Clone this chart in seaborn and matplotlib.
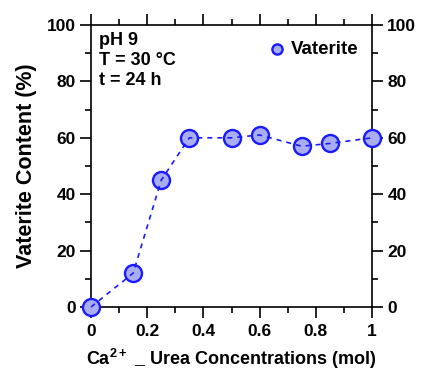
import matplotlib
matplotlib.use("Agg")
import matplotlib.pyplot as plt
import seaborn as sns
import pandas as pd
from matplotlib.ticker import MultipleLocator, FixedLocator, FuncFormatter

# Ca2+ - urea concentration (mol) and vaterite content (%)
concentration = [0.0, 0.15, 0.25, 0.35, 0.5, 0.6, 0.75, 0.85, 1.0]
vaterite = [0, 12, 45, 60, 60, 61, 57, 58, 60]
x_ticks = [0, 0.2, 0.4, 0.6, 0.8, 1]
y_ticks = [0, 20, 40, 60, 80, 100]

sns.set_theme(style="ticks")
plt.rcParams["font.family"] = ["Liberation Sans", "DejaVu Sans"]
plt.rcParams["font.weight"] = "bold"
plt.rcParams["text.color"] = "black"
plt.rcParams["axes.labelcolor"] = "black"
plt.rcParams["xtick.color"] = "black"
plt.rcParams["ytick.color"] = "black"
plt.rcParams["mathtext.fontset"] = "custom"
plt.rcParams["mathtext.rm"] = "Liberation Sans:bold"
plt.rcParams["mathtext.bf"] = "Liberation Sans:bold"
plt.rcParams["mathtext.default"] = "bf"

df = pd.DataFrame({"conc": concentration, "vat": vaterite})

fig = plt.figure(figsize=(4.21, 3.72), dpi=100)
ax = fig.add_axes([91 / 421, 1 - 307 / 372, 281 / 421, 282 / 372])

blue = "#1a1aff"
fill = "#a9adf2"

sns.scatterplot(data=df, x="conc", y="vat", ax=ax, s=150, color=fill,
                edgecolor=blue, linewidth=1.7, zorder=3, clip_on=False,
                label="Vaterite")
sns.lineplot(data=df, x="conc", y="vat", ax=ax, color=blue, lw=1.2,
             zorder=4, clip_on=False, legend=False)
ax.lines[-1].set_linestyle((0, (3, 3)))

ax.set_xlim(0, 1)
ax.set_ylim(0, 100)

ax.xaxis.set_major_locator(FixedLocator(x_ticks))
ax.xaxis.set_minor_locator(MultipleLocator(0.1))
ax.yaxis.set_major_locator(FixedLocator(y_ticks))
ax.yaxis.set_minor_locator(MultipleLocator(10))
ax.xaxis.set_major_formatter(FuncFormatter(lambda v, p: f"{v:g}"))

for side in ["left", "right", "top", "bottom"]:
    ax.spines[side].set_visible(True)
    ax.spines[side].set_linewidth(1.2)
    ax.spines[side].set_color("black")

ax.tick_params(which="both", direction="out", top=True, right=True,
               labelright=True, labeltop=False, width=1.2, color="black")
ax.tick_params(which="major", length=8, labelsize=12.5)
ax.tick_params(axis="x", which="major", pad=4.5)
ax.tick_params(axis="y", which="major", pad=3)
ax.tick_params(which="minor", length=4.5)
for lab in ax.get_xticklabels() + ax.get_yticklabels():
    lab.set_fontweight("bold")

ax.set_xlabel("Ca$^{2+}$ _ Urea Concentrations (mol)", fontsize=13,
              fontweight="bold", labelpad=5.5)
ax.set_ylabel("Vaterite Content (%)", fontsize=15.5, fontweight="bold",
              labelpad=7)

ax.text(0.03, 0.975, "pH 9\nT = 30 °C\nt = 24 h", transform=ax.transAxes,
        ha="left", va="top", fontsize=13, fontweight="bold", linespacing=1.22)

leg = ax.legend(loc="upper right", bbox_to_anchor=(1.0, 0.99), frameon=False,
                fontsize=13.5, handletextpad=0.1, handlelength=1.3,
                markerscale=0.6, borderaxespad=0.3)
for t in leg.get_texts():
    t.set_fontweight("bold")

fig.savefig("out.png", dpi=100)
